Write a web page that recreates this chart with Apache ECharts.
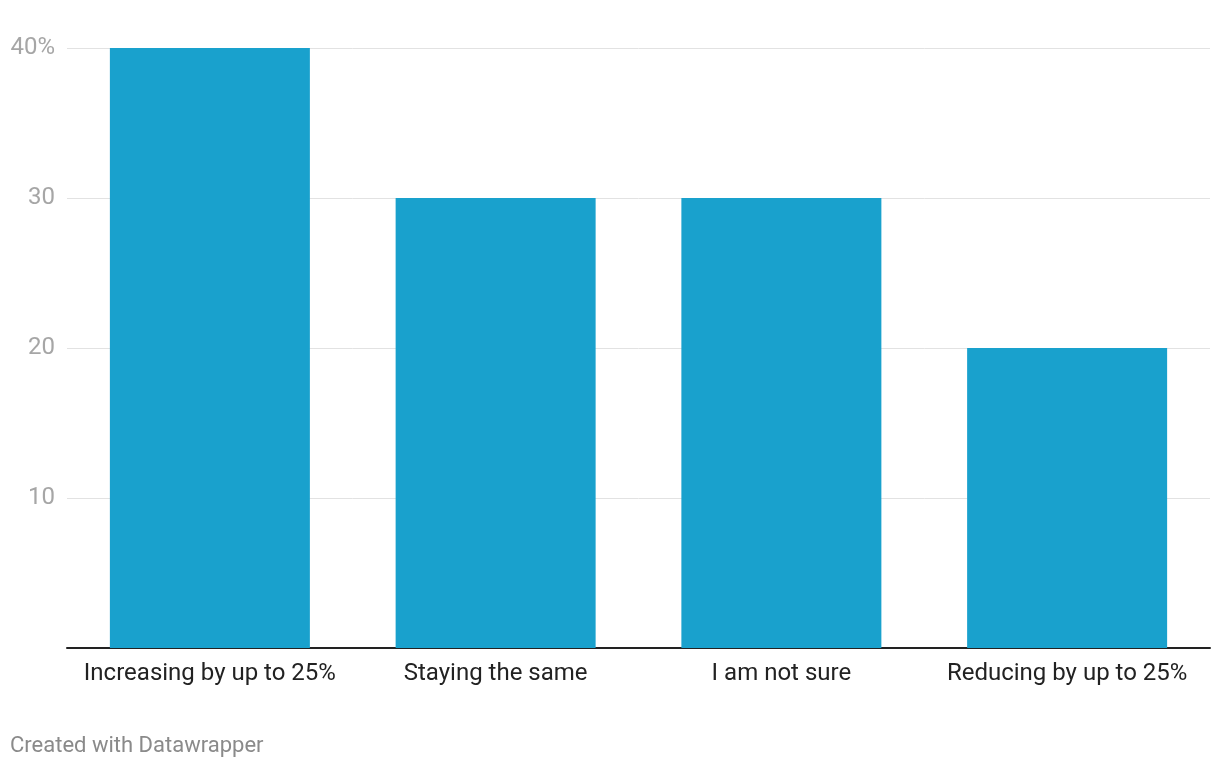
<!DOCTYPE html>
<html><head><meta charset="utf-8">
<script src="https://cdn.jsdelivr.net/npm/echarts@6/dist/echarts.min.js"></script>
<style>html,body{margin:0;padding:0;background:#fff}#c{width:1220px;height:768px}</style>
</head><body><div id="c"></div>
<script>
var categories = ["Increasing by up to 25%", "Staying the same", "I am not sure", "Reducing by up to 25%"];
var values = [40, 30, 30, 20];
var yTicks = [0, 10, 20, 30, 40];
var footer = "Created with Datawrapper";

var chart = echarts.init(document.getElementById('c'));
chart.setOption({
  animation: false,
  textStyle: {fontFamily: 'Roboto'},
  grid: {left: 67, right: 10, top: 48, bottom: 120, containLabel: false},
  xAxis: {
    type: 'category', data: categories,
    axisLine: {show: true, lineStyle: {color: '#222', width: 2}},
    axisTick: {show: false},
    axisLabel: {color: '#222', fontSize: 24, margin: 14, fontFamily: 'Roboto', interval: 0}
  },
  yAxis: {
    type: 'value', min: yTicks[0], max: yTicks[yTicks.length-1], interval: 10,
    axisLine: {show: false}, axisTick: {show: false},
    splitLine: {lineStyle: {color: '#e2e2e2', width: 1}},
    axisLabel: {
      color: '#a6a6a6', fontSize: 24, margin: 12, fontFamily: 'Roboto',
      formatter: function (v) { if (v === 0) return ''; return v === 40 ? v + '%' : String(v); }
    }
  },
  series: [{
    type: 'bar', data: values, barWidth: 200,
    itemStyle: {color: '#19a1cd'}
  }],
  graphic: [{
    type: 'text', left: 10, top: 735,
    style: {text: footer, fill: '#8a8a8a', fontSize: 22, fontFamily: 'Roboto'}
  }]
});
</script></body></html>
